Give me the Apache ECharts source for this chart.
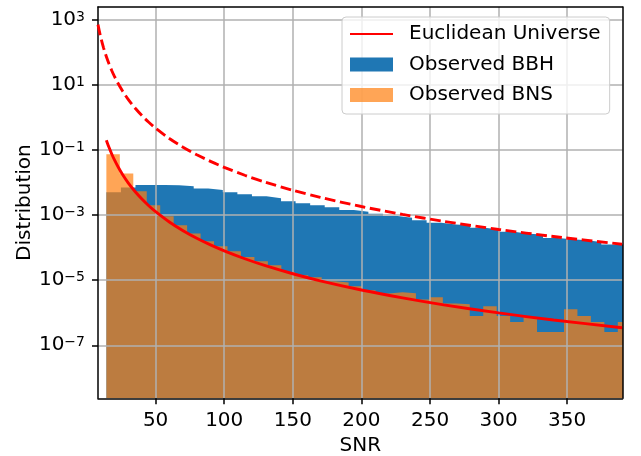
<!DOCTYPE html>
<html><head><meta charset="utf-8">
<script src="https://cdn.jsdelivr.net/npm/echarts@6/dist/echarts.min.js"></script>
<style>html,body{margin:0;padding:0;background:#fff}#c{width:641px;height:456px}</style>
</head><body><div id="c"></div>
<script>
// ---- data ----
const xTicks = [50, 100, 150, 200, 250, 300, 350];
const yTicks = [1e-7, 1e-5, 1e-3, 1e-1, 1e1, 1e3];

const bbhBinStart = 14.1, bbhBinWidth = 10.61;
const bbhValues = [0.0051, 0.0071, 0.0084, 0.0085, 0.0083, 0.0078, 0.0066, 0.0059, 0.0051, 0.0044,
  0.0038, 0.0033, 0.0027, 0.00234, 0.00203, 0.00176, 0.00143, 0.00127, 0.0011, 0.00095,
  0.00083, 0.0007, 0.00058, 0.00052, 0.00049, 0.00041, 0.00036, 0.00031, 0.00027, 0.000255,
  0.0002, 0.000183, 0.00017, 0.00015, 0.000126, 0.000126];

const bnsBinStart = 14.1, bnsBinWidth = 9.81;
const bnsValues = [0.0753, 0.0191, 0.00547, 0.00203, 0.00093, 0.00049, 0.000273, 0.000158, 0.000111, 7.8e-5,
  5.2e-5, 3.84e-5, 2.9e-5, 1.8e-5, 1.43e-5, 1.24e-5, 9.3e-6, 8.5e-6, 6.5e-6, 4.9e-6,
  3.9e-6, 4.28e-6, 3.98e-6, 2.55e-6, 3.0e-6, 1.92e-6, 1.83e-6, 8.0e-7, 1.58e-6, 8.0e-7,
  5.2e-7, 7.4e-7, 2.57e-7, 2.57e-7, 1.28e-6, 8.0e-7, 5.2e-7, 2.57e-7, 5.2e-7];

const euclidX = [14.1, 15, 16, 18, 20, 23, 26, 30, 35, 40, 45, 50, 60, 70, 80, 90, 100, 115, 130, 150, 170, 200, 230, 260, 300, 340, 390];
const euclidY = [0.2024, 0.158, 0.1221, 0.0762, 0.05, 0.02859, 0.01751, 0.00988, 0.00533, 0.003125, 0.001951, 0.00128,
  0.000617, 0.000333, 0.0001953, 0.0001219, 0.00008, 4.574e-5, 2.801e-5, 1.58e-5, 9.58e-6, 5.0e-6, 2.859e-6, 1.751e-6,
  9.88e-7, 5.99e-7, 3.46e-7];

const euclidBbhX = [8, 9, 10, 11, 12, 13, 14, 16, 18, 20, 23, 26, 30, 35, 40, 45, 50, 60, 70, 80, 90, 100, 115, 130, 150, 170, 200, 230, 260, 300, 340, 390];
const euclidBbhY = [720, 449.6, 295, 201.5, 142.3, 103.3, 76.8, 45.0, 28.1, 18.4, 10.54, 6.46, 3.64, 1.966, 1.152, 0.719, 0.472,
  0.2276, 0.1229, 0.072, 0.045, 0.0295, 0.01687, 0.01033, 0.00583, 0.00353, 0.001844, 0.001054, 0.000646, 0.000364,
  0.000221, 0.0001275];

// ---- chart ----
const X_MIN = 8, X_MAX = 390.3;
const Y_MIN = Math.pow(10, -8.63), Y_MAX = Math.pow(10, 3.4);
const FONT = 'DejaVu Sans';
const FS = 20;

// histogram outline points: left edge of every bin, plus the closing right edge
function histSteps(start, width, vals) {
  const pts = vals.map((v, i) => [start + i * width, v]);
  pts.push([start + vals.length * width, vals[vals.length - 1]]);
  return pts;
}
const zip = (xs, ys) => xs.map((x, i) => [x, ys[i]]);

const chart = echarts.init(document.getElementById('c'), null, { renderer: 'canvas' });
const axisLineStyle = { color: '#000', width: 1.5 };
const gridLine = { show: true, lineStyle: { color: '#b0b0b0', width: 1.5 } };
chart.setOption({
  animation: false,
  backgroundColor: '#fff',
  grid: { left: 98, right: 18.5, top: 7, bottom: 57.7, containLabel: false, outerBoundsMode: 'none' },
  xAxis: [{
    type: 'value', min: X_MIN, max: X_MAX, z: 3,
    name: 'SNR', nameLocation: 'middle', nameGap: 37, nameMoveOverlap: false,
    nameTextStyle: { fontFamily: FONT, fontSize: FS, color: '#000' },
    axisLine: { show: true, lineStyle: axisLineStyle },
    axisTick: { show: true, inside: false, length: 6, customValues: xTicks, lineStyle: { color: '#000', width: 1.5 } },
    axisLabel: { customValues: xTicks, margin: 12, fontFamily: FONT, fontSize: FS, color: '#000' },
    splitLine: gridLine
  }, {
    type: 'value', min: X_MIN, max: X_MAX, position: 'top', z: 3,
    axisLine: { show: true, onZero: false, lineStyle: axisLineStyle },
    axisTick: { show: false }, axisLabel: { show: false }, splitLine: { show: false }
  }],
  yAxis: [{
    type: 'log', min: Y_MIN, max: Y_MAX, z: 3, logBase: 10,
    name: 'Distribution', nameLocation: 'middle', nameGap: 63, nameMoveOverlap: false,
    nameTextStyle: { fontFamily: FONT, fontSize: FS, color: '#000' },
    axisLine: { show: true, lineStyle: axisLineStyle },
    axisTick: { show: true, inside: false, length: 6, customValues: yTicks, lineStyle: { color: '#000', width: 1.5 } },
    axisLabel: {
      customValues: yTicks, margin: 13, color: '#000',
      formatter: function (v) {
        const e = Math.round(Math.log10(v));
        return '{b|10}{s|' + (e < 0 ? '\u2212' : '') + Math.abs(e) + '}';
      },
      rich: {
        b: { fontFamily: FONT, fontSize: FS, color: '#000', lineHeight: 20, verticalAlign: 'bottom' },
        s: { fontFamily: FONT, fontSize: 14, color: '#000', lineHeight: 6, verticalAlign: 'top' }
      }
    },
    splitLine: gridLine
  }, {
    type: 'log', min: Y_MIN, max: Y_MAX, position: 'right', z: 3,
    axisLine: { show: true, onZero: false, lineStyle: axisLineStyle },
    axisTick: { show: false }, axisLabel: { show: false }, splitLine: { show: false }
  }],
  legend: {
    left: 342, top: 17, orient: 'vertical',
    itemWidth: 43, itemHeight: 14, itemGap: 10.5,
    padding: [7, 9, 9, 7],
    backgroundColor: 'rgba(255,255,255,0.8)', borderColor: '#cccccc', borderWidth: 1, borderRadius: 4,
    textStyle: { fontFamily: FONT, fontSize: FS, lineHeight: 20, color: '#000', padding: [0, 0, 0, 11] },
    data: [
      { name: 'Euclidean Universe', itemStyle: { opacity: 0 } },
      { name: 'Observed BBH', icon: 'rect' },
      { name: 'Observed BNS', icon: 'rect' }
    ]
  },
  series: [
    {
      name: 'Observed BBH', type: 'line', step: 'end', z: 1, symbol: 'none',
      color: '#1f77b4',
      itemStyle: { color: '#1f77b4' },
      lineStyle: { width: 0, color: '#1f77b4' },
      areaStyle: { color: '#1f77b4', opacity: 1, origin: 'start' },
      data: histSteps(bbhBinStart, bbhBinWidth, bbhValues)
    },
    {
      name: 'Observed BNS', type: 'line', step: 'end', z: 2, symbol: 'none',
      color: 'rgba(255,127,14,0.7)',
      itemStyle: { color: 'rgba(255,127,14,0.7)' },
      lineStyle: { width: 0, color: 'rgba(255,127,14,0.7)' },
      areaStyle: { color: 'rgba(255,127,14,0.7)', opacity: 1, origin: 'start' },
      data: histSteps(bnsBinStart, bnsBinWidth, bnsValues)
    },
    {
      name: 'Euclidean Universe', type: 'line', z: 5, symbol: 'none', smooth: 0.3, clip: true,
      lineStyle: { color: '#ff0000', width: 2.9 }, itemStyle: { color: '#ff0000' },
      data: zip(euclidX, euclidY)
    },
    {
      name: 'Euclidean BBH', type: 'line', z: 5, symbol: 'none', smooth: 0.3, clip: true,
      lineStyle: { color: '#ff0000', width: 2.9, type: [10.7, 4.6] }, itemStyle: { color: '#ff0000' },
      data: zip(euclidBbhX, euclidBbhY)
    }
  ]
});
</script>
</body></html>
